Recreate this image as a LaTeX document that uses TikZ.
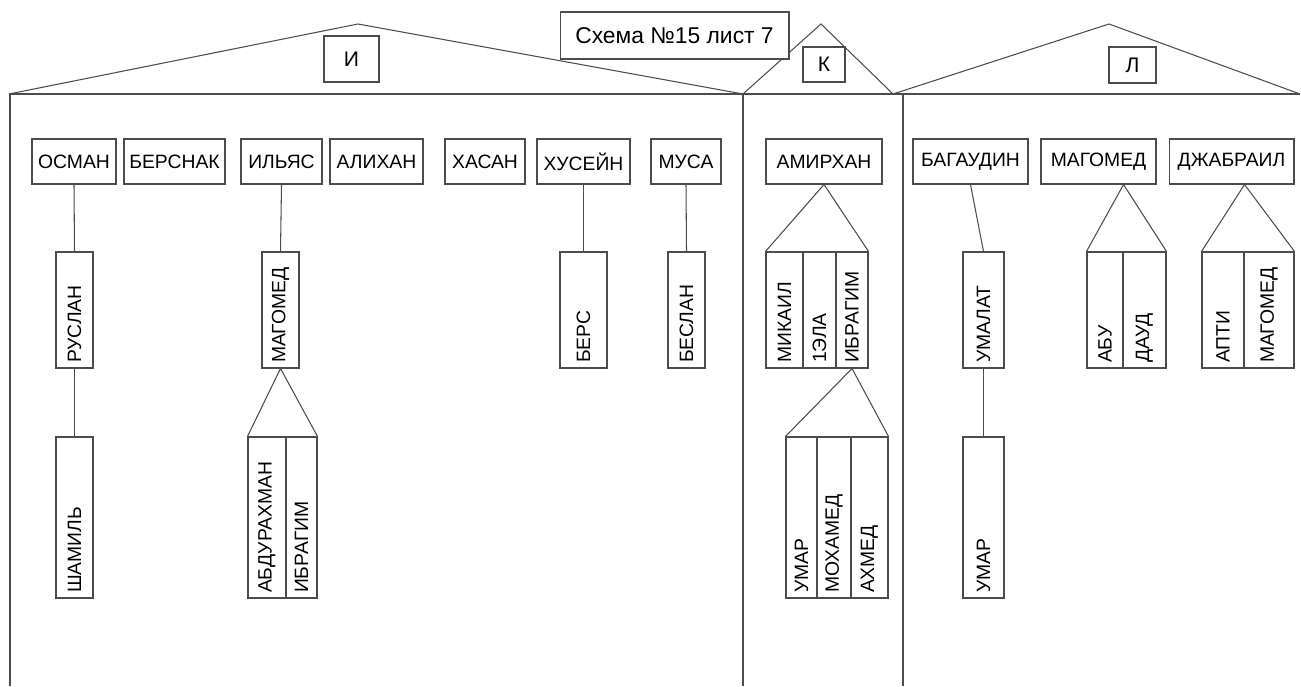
\documentclass[tikz,border=0pt]{standalone}
\usepackage{fontspec}
\setmainfont{Liberation Sans}
\usepackage{tikz}

\tikzset{
  wall/.style={draw=black!70, line width=0.6pt},
  link/.style={draw=black!70, line width=0.6pt},
  namebox/.style={draw=black!70, fill=white, line width=0.6pt, inner sep=0pt,
    minimum height=0.9cm, text=black, font=\fontsize{11}{13}\selectfont},
  kid/.style={draw=black!70, line width=0.6pt, rotate=90, inner xsep=0.1cm, inner ysep=0pt,
    align=left, text=black, font=\fontsize{11}{13}\selectfont},
  kidup/.style={kid, text width=2.12cm},
  kidlow/.style={kid, text width=3.02cm}
}

\begin{document}
\begin{tikzpicture}[x=0.02cm, y=-0.02cm]
\useasboundingbox (0,0) rectangle (1301,686);
\draw[wall] (9,94) -- (358,24) -- (743,94) -- (821,24) -- (893,94) -- (1109,24) -- (1300,94);
\draw[wall] (9,94) -- (1300,94);
\draw[wall] (10,94) -- (10,686);
\draw[wall] (743,94) -- (743,686);
\draw[wall] (903,94) -- (903,686);
\node[namebox, minimum width=4.58cm, minimum height=0.94cm, font=\fontsize{13}{15}\selectfont] (title) at (674.5,35.5) {Схема №15 лист 7};
\node[namebox, minimum width=1.10cm, minimum height=0.92cm, font=\fontsize{12}{14}\selectfont] (kinI) at (351.5,59) {И};
\node[namebox, minimum width=0.84cm, minimum height=0.70cm, font=\fontsize{12}{14}\selectfont] (kinK) at (824,64.5) {К};
\node[namebox, minimum width=0.94cm, minimum height=0.72cm, font=\fontsize{12}{14}\selectfont] (kinL) at (1132.5,65) {Л};
\node[namebox, minimum width=1.68cm] (osman) at (74,161.5) {ОСМАН};
\node[namebox, minimum width=2.02cm] (bersnak) at (174.5,161.5) {БЕРСНАК};
\node[namebox, minimum width=1.62cm] (ilyas) at (281.5,161.5) {ИЛЬЯС};
\node[namebox, minimum width=1.86cm] (alihan) at (376.5,161.5) {АЛИХАН};
\node[namebox, minimum width=1.60cm] (hasan) at (485,161.5) {ХАСАН};
\node[namebox, minimum width=1.86cm] (husein) at (583.5,161.5) {ХУСЕЙН};
\node[namebox, minimum width=1.40cm] (musa) at (686,161.5) {МУСА};
\node[namebox, minimum width=2.32cm] (amirhan) at (824,161.5) {АМИРХАН};
\node[namebox, minimum width=2.30cm] (bagaudin) at (970.5,161.5) {БАГАУДИН};
\node[namebox, minimum width=2.30cm] (magomedL) at (1098.5,161.5) {МАГОМЕД};
\node[namebox, minimum width=2.50cm] (dzhabrail) at (1231.5,161.5) {ДЖАБРАИЛ};
\node[kidup, minimum height=0.74cm] (ruslan) at (74.5,310) {РУСЛАН};
\node[kidlow, minimum height=0.74cm] (shamil) at (74.5,517.5) {ШАМИЛЬ};
\node[kidup, minimum height=0.74cm] (magomedI) at (280.5,310) {МАГОМЕД};
\node[kidlow, minimum height=0.76cm] (abdurahman) at (267,517.5) {АБДУРАХМАН};
\node[kidlow, minimum height=0.62cm] (ibragimI) at (301.5,517.5) {ИБРАГИМ};
\node[kidup, minimum height=0.94cm] (bers) at (583.5,310) {БЕРС};
\node[kidup, minimum height=0.74cm] (beslan) at (686.5,310) {БЕСЛАН};
\node[kidup, minimum height=0.74cm] (mikail) at (784.5,310) {МИКАИЛ};
\node[kidup, minimum height=0.66cm] (ela) at (819.5,310) {1ЭЛА};
\node[kidup, minimum height=0.64cm] (ibragimK) at (852,310) {ИБРАГИМ};
\node[kidlow, minimum height=0.62cm] (umarK) at (801.5,517.5) {УМАР};
\node[kidlow, minimum height=0.68cm] (mohamed) at (834,517.5) {МОХАМЕД};
\node[kidlow, minimum height=0.74cm] (ahmed) at (869.5,517.5) {АХМЕД};
\node[kidup, minimum height=0.82cm] (umalat) at (983.5,310) {УМАЛАТ};
\node[kidlow, minimum height=0.82cm] (umarL) at (983.5,517.5) {УМАР};
\node[kidup, minimum height=0.72cm] (abu) at (1105,310) {АБУ};
\node[kidup, minimum height=0.86cm] (daud) at (1144.5,310) {ДАУД};
\node[kidup, minimum height=0.84cm] (apti) at (1223,310) {АПТИ};
\node[kidup, minimum height=1.00cm] (magomedD) at (1269,310) {МАГОМЕД};
\draw[link] (osman.south) -- (ruslan.east);
\draw[link] (ruslan.west) -- (shamil.east);
\draw[link] (ilyas.south) -- (magomedI.east);
\draw[link] (abdurahman.north east) -- (magomedI.west) -- (ibragimI.south east);
\draw[link] (husein.south) -- (bers.east);
\draw[link] (musa.south) -- (beslan.east);
\draw[link] (mikail.north east) -- (amirhan.south) -- (ibragimK.south east);
\draw[link] (umarK.north east) -- (ibragimK.west) -- (ahmed.south east);
\draw[link] (bagaudin.south) -- (umalat.east);
\draw[link] (umalat.west) -- (umarL.east);
\draw[link] (abu.north east) -- (abu.south |- magomedL.south) -- (daud.south east);
\draw[link] (apti.north east) -- (apti.south |- dzhabrail.south) -- (magomedD.south east);
\end{tikzpicture}
\end{document}
